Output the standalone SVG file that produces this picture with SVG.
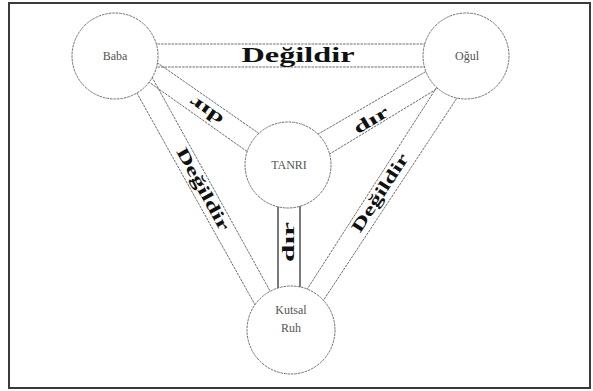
<svg xmlns="http://www.w3.org/2000/svg" width="593" height="391" viewBox="0 0 593 391">
<style>
.frame{fill:#fff;stroke:#3a3a3a;stroke-width:2}
.band{stroke:#6e6e6e;stroke-width:1;stroke-dasharray:2.6 0.9;fill:none}
.solid{stroke:#222;stroke-width:1.2;fill:none}
.node{fill:#fff;stroke:#6e6e6e;stroke-width:1;stroke-dasharray:2.6 0.9}
.lbl{font-family:"Liberation Serif","Times New Roman",serif;font-weight:bold;fill:#111}
.nl{font-family:"Liberation Serif","Times New Roman",serif;font-size:12px;fill:#555;text-anchor:middle}
</style>
<rect class="frame" x="9" y="3" width="581" height="385"/>
<g id="connectors">
  <line class="band" x1="140" y1="44" x2="440" y2="44"/>
  <line class="band" x1="140" y1="67" x2="440" y2="67"/>
  <line class="band" x1="151" y1="58.4" x2="266" y2="138.4"/>
  <line class="band" x1="142.2" y1="77.3" x2="257" y2="158.5"/>
  <line class="band" x1="440.75" y1="62.85" x2="309.5" y2="139.1"/>
  <line class="band" x1="451" y1="80.25" x2="317.3" y2="161.5"/>
  <line class="band" x1="126.4" y1="74.2" x2="263.3" y2="319.6"/>
  <line class="band" x1="146.8" y1="67.7" x2="279" y2="307.2"/>
  <line class="band" x1="447.7" y1="70.2" x2="297.8" y2="303.8"/>
  <line class="band" x1="470.2" y1="78" x2="314.4" y2="314"/>
  <rect class="solid" x="278" y="200" width="22" height="95"/>
  <text class="lbl" x="298" y="62" font-size="22" text-anchor="middle" textLength="113" lengthAdjust="spacingAndGlyphs">Değildir</text>
  <text class="lbl" font-size="17" text-anchor="middle" textLength="92" lengthAdjust="spacingAndGlyphs" x="0" y="5.5" transform="translate(203,189) rotate(61)">Değildir</text>
  <text class="lbl" font-size="17" text-anchor="middle" textLength="90" lengthAdjust="spacingAndGlyphs" x="0" y="5.5" transform="translate(380,193) rotate(-57)">Değildir</text>
  <text class="lbl" font-size="17" text-anchor="middle" textLength="38" lengthAdjust="spacingAndGlyphs" x="0" y="5.5" transform="translate(206,111) rotate(215)">dır</text>
  <text class="lbl" font-size="17" text-anchor="middle" textLength="38" lengthAdjust="spacingAndGlyphs" x="0" y="5.5" transform="translate(371,120) rotate(-31)">dır</text>
  <text class="lbl" font-size="16" text-anchor="middle" textLength="40" lengthAdjust="spacingAndGlyphs" x="0" y="5" transform="translate(289,242) rotate(-90)">dır</text>
</g>
<g id="baba">
  <circle class="node" cx="115" cy="56" r="43"/>
  <text class="nl" x="115" y="60">Baba</text>
</g>
<g id="ogul">
  <circle class="node" cx="466" cy="56" r="43"/>
  <text class="nl" x="467" y="60">Oğul</text>
</g>
<g id="tanri">
  <circle class="node" cx="288" cy="165" r="43"/>
  <text class="nl" x="289" y="169">TANRI</text>
</g>
<g id="kutsal-ruh">
  <circle class="node" cx="291" cy="330" r="44"/>
  <text class="nl" x="291" y="314">Kutsal</text>
  <text class="nl" x="291" y="332">Ruh</text>
</g>
</svg>
